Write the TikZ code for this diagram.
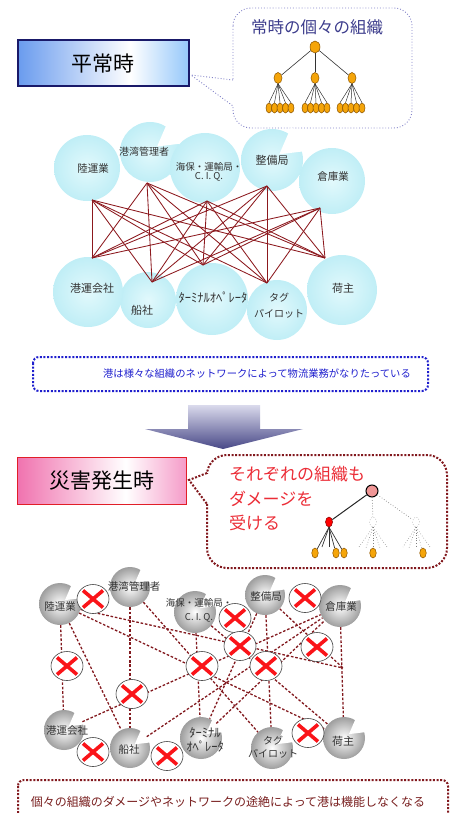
\documentclass[tikz,border=0pt]{standalone}
\usepackage{fontspec}
\setmainfont{Noto Sans CJK JP}
\usetikzlibrary{shapes.geometric,calc}
\definecolor{navy}{RGB}{25,25,105}
\definecolor{boxblueL}{RGB}{105,155,238}
\definecolor{boxblueR}{RGB}{150,200,250}
\definecolor{bubblue}{RGB}{130,130,200}
\definecolor{bubtext}{RGB}{60,60,140}
\definecolor{orng}{RGB}{245,165,10}
\definecolor{orngd}{RGB}{140,85,0}
\definecolor{cloudc}{RGB}{192,238,246}
\definecolor{cloudin}{RGB}{226,249,252}
\definecolor{netred}{RGB}{140,25,30}
\definecolor{msgblue}{RGB}{30,30,205}
\definecolor{arrtop}{RGB}{218,218,236}
\definecolor{arrbot}{RGB}{72,72,135}
\definecolor{pinkL}{RGB}{240,115,175}
\definecolor{pinkR}{RGB}{245,155,200}
\definecolor{boxred}{RGB}{225,30,40}
\definecolor{dred}{RGB}{130,25,30}
\definecolor{txtred}{RGB}{235,45,55}
\definecolor{xred}{RGB}{250,20,25}
\definecolor{msgred}{RGB}{120,30,30}
\definecolor{pinkroot}{RGB}{240,150,150}
\pgfdeclarehorizontalshading{blueboxsh}{100bp}{color(0bp)=(boxblueL); color(25bp)=(boxblueL); color(58bp)=(white); color(75bp)=(boxblueR); color(100bp)=(boxblueR)}
\pgfdeclarehorizontalshading{pinkboxsh}{100bp}{color(0bp)=(pinkL); color(25bp)=(pinkL); color(57bp)=(white); color(75bp)=(pinkR); color(100bp)=(pinkR)}
\newcommand{\myfs}[1]{\fontsize{#1}{#1}\selectfont}
\newcommand{\mynotch}[2]{\fill[white] ($(#1.center)+(-38:{0.3*#2})$) -- ($(#1.center)+(-14:{1.25*#2})$) -- ($(#1.center)+(-60:{1.25*#2})$) -- cycle;}
\begin{document}
\begin{tikzpicture}[x=1pt,y=-1pt,
  lab/.style={inner sep=0pt, align=center, text=black!80, font=\myfs{10.5}},
  cloudn/.style={circle, inner sep=0pt, inner color=cloudin, outer color=cloudc},
  balln/.style={circle, inner sep=0pt, inner color=white, outer color=black!38},
  orn/.style={ellipse, draw=orngd, line width=0.5pt, fill=orng, inner sep=0pt, minimum width=6.5pt, minimum height=10pt},
  tl/.style={black!80, line width=0.6pt},
  netl/.style={netred, line width=0.85pt},
  dline/.style={dred, line width=1.3pt, dash pattern=on 2.6pt off 1.8pt},
  thickdot/.style={line width=2pt, dash pattern=on 2pt off 1.6pt},
  xm/.style={ellipse, draw=black!75, line width=0.6pt, fill=white, minimum width=32pt, minimum height=29pt, inner sep=0pt,
    path picture={\draw[xred, line width=3.6pt]
      ([shift={(-10,-8.5)}]path picture bounding box.center) -- ([shift={(10,8.5)}]path picture bounding box.center)
      ([shift={(-10,8.5)}]path picture bounding box.center) -- ([shift={(10,-8.5)}]path picture bounding box.center);}},
]
\useasboundingbox (0,0) rectangle (457,813);
\clip (0,0) rectangle (457,813);

% ---------- top: normal time ----------
\node[draw=navy, line width=2pt, shading=blueboxsh, minimum width=171pt, minimum height=46pt, inner sep=0pt, font=\myfs{21}] (hbox) at (103,63.5) {平常時};

\draw[bubblue, line width=0.9pt, dotted, rounded corners=18pt] (233,8) rectangle (412,128);
\fill[white] (230,80) rectangle (236,106);
\coordinate (tip1) at (191,75);
\coordinate (p1a) at (233,80);
\coordinate (p1b) at (233,106);
\draw[bubblue, line width=0.9pt, dotted] (p1a) -- (tip1) -- (p1b);
\node[text=bubtext, font=\myfs{16.5}, inner sep=0pt] (btxt) at (317,27) {常時の個々の組織};

\node[orn, minimum width=10pt, minimum height=12pt] (tr) at (315,47) {};
\node[orn, minimum width=8pt, minimum height=11pt] (ta) at (278,78) {};
\node[orn, minimum width=8pt, minimum height=11pt] (tb) at (315,78) {};
\node[orn, minimum width=8pt, minimum height=11pt] (tc) at (352,78) {};
\foreach \g/\cx in {a/280,b/316,c/351}{
  \foreach \k in {0,...,4}{
    \node[orn, minimum width=6pt] (l\g\k) at ({\cx-11+5.5*\k},108) {};
  }
}
\foreach \g in {a,b,c}{
  \draw[tl] (tr) -- (t\g);
  \foreach \k in {0,...,4}{\draw[tl, line width=0.5pt] (t\g.south) -- (l\g\k.north);}
}

% ---------- top network (clouds) ----------
\node[cloudn, minimum size=60pt] (k2) at (150,152) {};
\mynotch{k2}{30}
\node[cloudn, minimum size=66pt] (k1) at (87,168) {};
\node[cloudn, minimum size=70pt] (k3) at (205,168) {};
\node[cloudn, minimum size=62pt] (k4) at (272,160) {};
\mynotch{k4}{31}
\node[cloudn, minimum size=66pt] (k5) at (332,181) {};

\node[cloudn, minimum size=56pt] (j2) at (148,300) {};
\node[cloudn, minimum size=70pt] (j1) at (88,292) {};
\node[cloudn, minimum size=60pt] (j4) at (277,310) {};
\node[cloudn, minimum size=72pt] (j3) at (212,299) {};
\node[cloudn, minimum size=70pt] (j5) at (342,290) {};

\node[lab] (kl1) at (93,169) {陸運業};
\node[lab, font=\myfs{10}] (kl2) at (144,152) {港湾管理者};
\node[lab, font=\myfs{9.5}] (kl3) at (209,172) {海保・運輸局・\\C. I. Q.};
\node[lab, font=\myfs{11}] (kl4) at (272,160) {整備局};
\node[lab] (kl5) at (333,177) {倉庫業};
\node[lab, font=\myfs{11}] (jl1) at (92,288) {港運会社};
\node[lab, font=\myfs{11}] (jl2) at (142,310) {船社};
\node[lab, font=\myfs{12.5}] (jl3) at (213,298) {ﾀｰﾐﾅﾙｵﾍﾟﾚｰﾀ};
\node[lab, font=\myfs{10}] (jl4) at (279,306) {タグ\\[6pt]パイロット};
\node[lab, font=\myfs{11}] (jl5) at (343,288) {荷主};

\coordinate (t1) at (92,200);
\coordinate (t2) at (147,183);
\coordinate (t3) at (207,201);
\coordinate (t4) at (267,186);
\coordinate (t5) at (320,208);
\coordinate (u1) at (92,258);
\coordinate (u2) at (152,282);
\coordinate (u3) at (203,265);
\coordinate (u4) at (267,283);
\coordinate (u5) at (325,258);
\foreach \a in {1,...,5}{\foreach \b in {1,...,5}{\draw[netl] (t\a) -- (u\b);}}

\draw[msgblue, thickdot, rounded corners=6pt] (33,357) rectangle (428,391);
\node[text=msgblue, font=\myfs{10.3}, inner sep=0pt] (msg1) at (257,374) {港は様々な組織のネットワークによって物流業務がなりたっている};

% ---------- arrow ----------
\shade[top color=arrtop, bottom color=arrbot] (188,405) -- (260,405) -- (260,429) -- (303,429) -- (223,449) -- (145,429) -- (188,429) -- cycle;

% ---------- disaster ----------
\node[draw=boxred, line width=1.8pt, shading=pinkboxsh, minimum width=169pt, minimum height=47pt, inner sep=0pt, font=\myfs{21}] (dbox) at (102,481) {災害発生時};

\draw[dred, thickdot, rounded corners=20pt] (207,455) rectangle (447,568);
\fill[white] (203,474) rectangle (211,503);
\coordinate (tip2) at (189,480);
\coordinate (p2a) at (207,473);
\coordinate (p2b) at (207,504);
\draw[dred, thickdot] (p2a) -- (tip2) -- (p2b);

\node[text=txtred, font=\myfs{17}, inner sep=0pt, anchor=west] (r1) at (229,474) {それぞれの組織も};
\node[text=txtred, font=\myfs{17}, inner sep=0pt, anchor=west] (r2) at (229,499) {ダメージを};
\node[text=txtred, font=\myfs{17}, inner sep=0pt, anchor=west] (r3) at (229,523) {受ける};

\node[circle, draw=black, line width=1pt, fill=pinkroot, minimum size=12pt, inner sep=0pt] (pr) at (372,491) {};
\node[ellipse, draw=red!50!black, line width=0.5pt, fill=red, minimum width=7pt, minimum height=10pt, inner sep=0pt] (rc) at (329,522) {};
\node[ellipse, draw=gray!70, dotted, line width=0.6pt, fill=white, minimum width=7pt, minimum height=10pt, inner sep=0pt] (w1) at (373,522) {};
\node[ellipse, draw=gray!70, dotted, line width=0.6pt, fill=white, minimum width=7pt, minimum height=10pt, inner sep=0pt] (w2) at (416,522) {};
\node[orn] (q1) at (315,553) {};
\node[orn] (q2) at (336,553) {};
\node[orn] (q3) at (344,553) {};
\node[orn] (q4) at (373,553) {};
\node[orn] (q5) at (423,553) {};
\coordinate (k1a) at (322,547);
\coordinate (k2a) at (329,547);
\coordinate (m1) at (359,547);
\coordinate (m2) at (366,548);
\coordinate (m3) at (380,548);
\coordinate (m4) at (387,547);
\coordinate (n1) at (403,547);
\coordinate (n2) at (409,548);
\coordinate (n3) at (416,548);
\coordinate (n4) at (430,547);
\draw[black!85, line width=1pt] (pr) -- (rc);
\draw[gray, dotted, line width=0.7pt] (pr) -- (w1);
\draw[gray, dotted, line width=0.7pt] (pr) -- (w2);
\foreach \t in {q1,k1a,k2a,q2,q3}{\draw[black!80, line width=0.7pt] (rc.south) -- (\t);}
\foreach \t in {m1,m2,q4,m3,m4}{\draw[gray, dotted, line width=0.6pt] (w1.south) -- (\t);}
\foreach \t in {n1,n2,n3,q5,n4}{\draw[gray, dotted, line width=0.6pt] (w2.south) -- (\t);}

% ---------- damaged network ----------
\node[balln, minimum size=42pt] (s1) at (60,604) {};
\node[balln, minimum size=40pt] (s2) at (130,587) {};
\node[balln, minimum size=42pt] (s3) at (195,612) {};
\node[balln, minimum size=40pt] (s4) at (265,595) {};
\node[balln, minimum size=42pt] (s5) at (340,606) {};
\node[balln, minimum size=40pt] (s6) at (64,730) {};
\node[balln, minimum size=40pt] (s7) at (130,748) {};
\node[balln, minimum size=42pt] (s8) at (201,738) {};
\node[balln, minimum size=42pt] (s9) at (272,748) {};
\node[balln, minimum size=42pt] (s10) at (344,738) {};
\mynotch{s1}{21}
\mynotch{s2}{20}
\mynotch{s3}{21}
\mynotch{s4}{20}
\mynotch{s5}{21}
\mynotch{s6}{20}
\mynotch{s7}{20}
\mynotch{s8}{21}
\mynotch{s9}{21}
\mynotch{s10}{21}

\coordinate (c1) at (343,668);
\draw[dline] (s1) -- (s6);
\draw[dline] (s1) -- (s7);
\draw[dline] (s1) -- (s10);
\draw[dline] (s1.-15) -- (c1);
\draw[dline] (s2) -- (s7);
\draw[dline] (s2) -- (s9);
\draw[dline] (s3) -- (s8);
\draw[dline] (s3) -- (s10);
\draw[dline] (s4) -- (s9);
\draw[dline] (s4) -- (s8);
\draw[dline] (s4) -- (c1);
\draw[dline] (s5) -- (s10);
\draw[dline] (s6) -- (s5);
\draw[dline] (s7) -- (s5);
\draw[dline] (s8) -- (s5);

\node[lab] (sl1) at (60,606) {陸運業};
\node[lab] (sl2) at (134,586) {港湾管理者};
\node[lab, font=\myfs{9.5}] (sl3) at (199,610) {海保・運輸局・\\[4.5pt]C. I. Q.};
\node[lab] (sl4) at (266,597) {整備局};
\node[lab] (sl5) at (341,606) {倉庫業};
\node[lab] (sl6) at (67,731) {港運会社};
\node[lab] (sl7) at (129,750) {船社};
\node[lab, font=\myfs{12.5}] (sl8) at (205,740) {ﾀｰﾐﾅﾙ\\[2pt]ｵﾍﾟﾚｰﾀ};
\node[lab, font=\myfs{10}] (sl9) at (273,747) {タグ\\[3pt]パイロット};
\node[lab, font=\myfs{11}] (sl10) at (343,741) {荷主};

\node[xm] (x1) at (93,599) {};
\node[xm] (x2) at (305,598) {};
\node[xm] (x3) at (235,618) {};
\node[xm] (x4) at (240,646) {};
\node[xm] (x5) at (317,647) {};
\node[xm] (x6) at (67,666) {};
\node[xm] (x7) at (202,666) {};
\node[xm] (x8) at (266,666) {};
\node[xm] (x9) at (132,694) {};
\node[xm] (x10) at (93,752) {};
\node[xm] (x11) at (167,756) {};
\node[xm] (x12) at (308,733) {};

\draw[dred, thickdot, rounded corners=6pt] (18,780) rectangle (448,830);
\node[text=msgred, font=\myfs{12}, inner sep=0pt] (msg2) at (228,802) {個々の組織のダメージやネットワークの途絶によって港は機能しなくなる};
\end{tikzpicture}
\end{document}
